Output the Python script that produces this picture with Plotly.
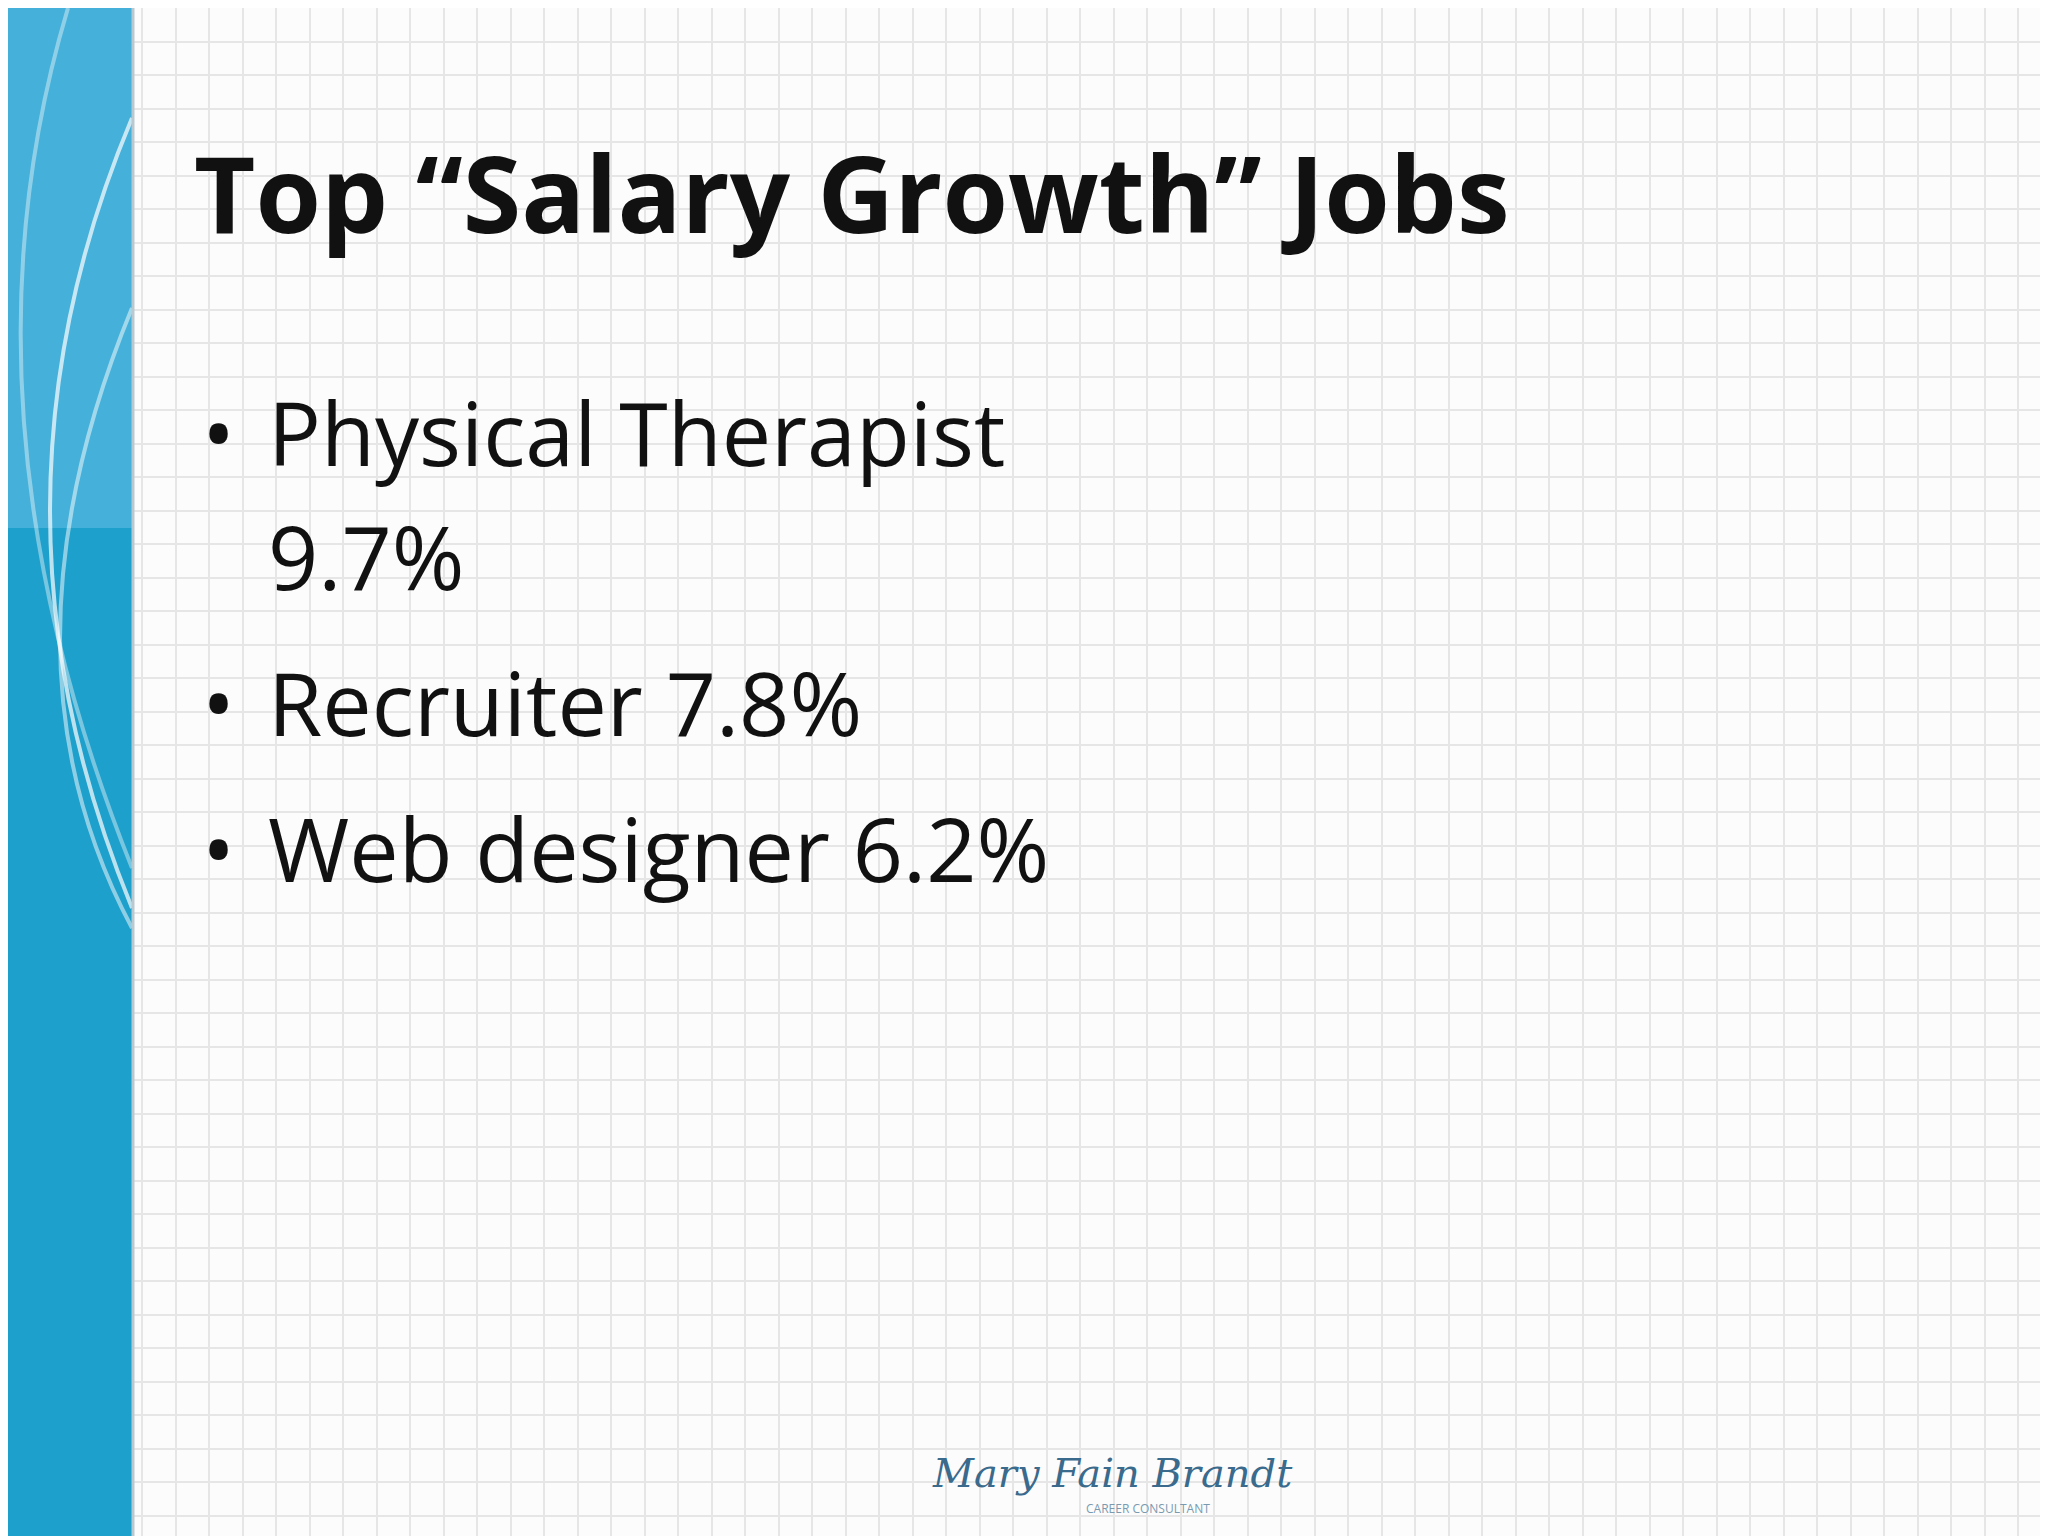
import plotly.graph_objects as go

title = "Top “Salary Growth” Jobs"
jobs = ["Physical Therapist", "Recruiter", "Web designer"]
growth = [9.7, 7.8, 6.2]
logo = "Mary Fain Brandt"

W, H = 2048, 1536
fig = go.Figure()

# left blue stripe
fig.add_shape(type="rect", x0=0, x1=124, y0=0, y1=H, line_width=0,
              fillcolor="#1ea0cc")
fig.add_shape(type="rect", x0=0, x1=124, y0=0, y1=520, line_width=0,
              fillcolor="#5fbde3", opacity=0.6)
for path, op in [("M 124 110 Q -40 500 124 900", 0.7),
                 ("M 124 300 Q -20 650 124 920", 0.5),
                 ("M 60 0 Q -60 400 124 860", 0.4)]:
    fig.add_shape(type="path", path=path, line=dict(color="white", width=4),
                  opacity=op)
fig.add_shape(type="line", x0=125, x1=125, y0=0, y1=H,
              line=dict(color="#b9c9cf", width=3))

fig.add_annotation(x=184, y=184, text=f"<b>{title}</b>", showarrow=False,
                   xanchor="left", yanchor="middle",
                   font=dict(family="Open Sans", size=106, color="#111"))

ys = [424, 694, 840]
fs = 88
for job, g, y in zip(jobs, growth, ys):
    fig.add_annotation(x=192, y=y, text="•", showarrow=False, xanchor="left",
                       yanchor="middle", font=dict(family="Open Sans", size=fs, color="#111"))
    if job == "Physical Therapist":
        fig.add_annotation(x=258, y=y, text=job, showarrow=False, xanchor="left",
                           yanchor="middle", font=dict(family="Open Sans", size=fs, color="#111"))
        fig.add_annotation(x=258, y=y + 124, text=f"{g}%", showarrow=False, xanchor="left",
                           yanchor="middle", font=dict(family="Open Sans", size=fs, color="#111"))
    else:
        fig.add_annotation(x=258, y=y, text=f"{job} {g}%", showarrow=False, xanchor="left",
                           yanchor="middle", font=dict(family="Open Sans", size=fs, color="#111"))

fig.add_annotation(x=1104, y=1465, text=f"<i>{logo}</i>", showarrow=False,
                   font=dict(family="DejaVu Serif", size=40, color="#3a6a8c"))
fig.add_annotation(x=1140, y=1500, text="CAREER CONSULTANT", showarrow=False,
                   font=dict(family="Open Sans", size=12, color="#7a9ab0"))

axis = dict(showgrid=True, gridcolor="#e6e6e6", gridwidth=1.5, dtick=33.5,
            zeroline=False, showticklabels=False, ticks="", fixedrange=True)
fig.update_xaxes(range=[0, W], tick0=0, **axis)
fig.update_yaxes(range=[H, 0], tick0=0, **axis)
fig.update_layout(width=W, height=H, margin=dict(l=0, r=0, t=0, b=0),
                  plot_bgcolor="#fcfcfc", paper_bgcolor="#fcfcfc", showlegend=False)
fig.write_html("out.html")
